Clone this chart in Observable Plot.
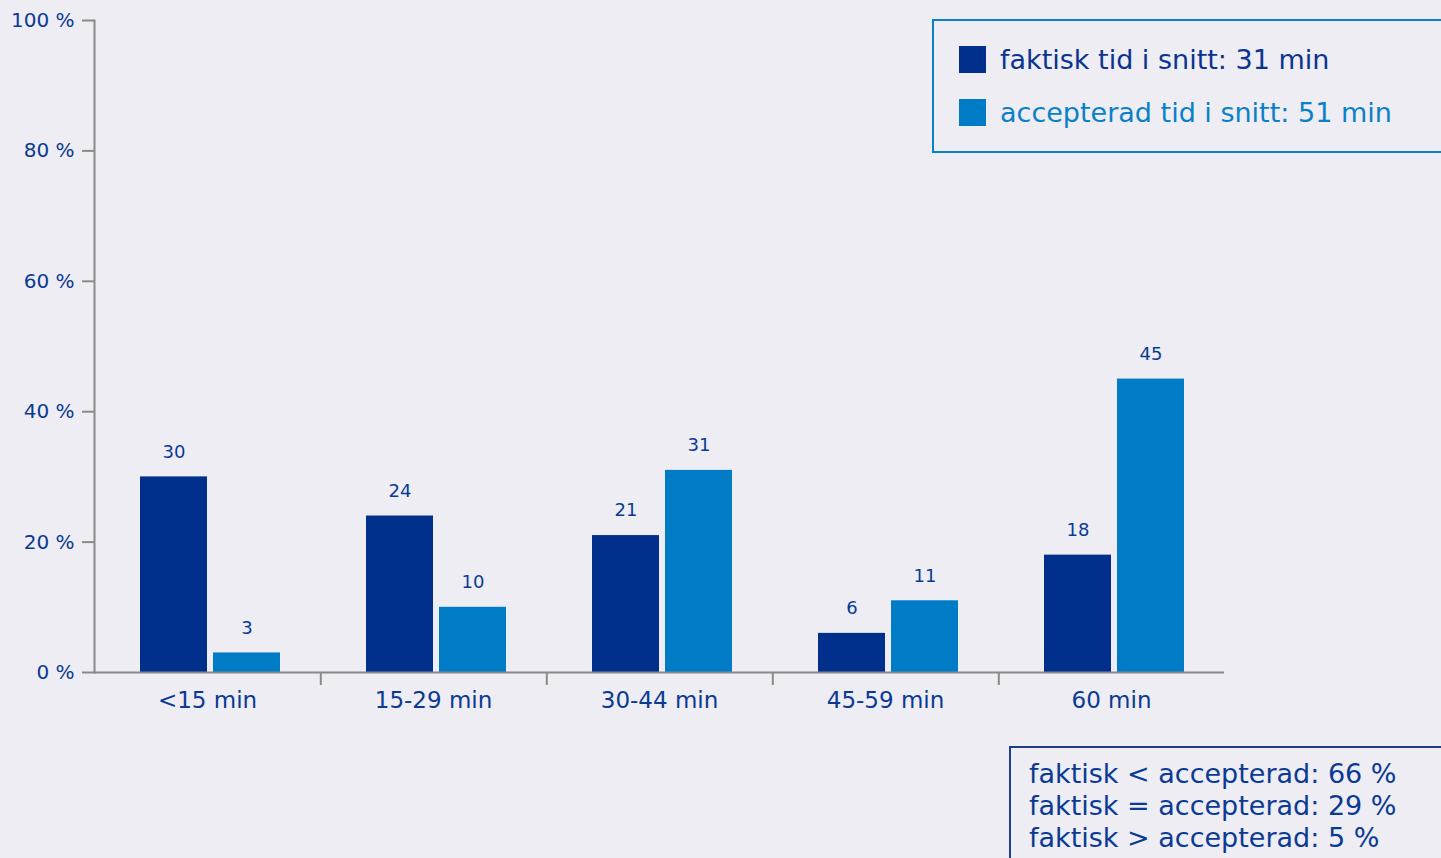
<!DOCTYPE html>
<html>
<head>
<meta charset="utf-8">
<script src="https://cdn.jsdelivr.net/npm/d3@7"></script>
<script src="https://cdn.jsdelivr.net/npm/@observablehq/plot@0.6"></script>
<style>
  html, body { margin: 0; padding: 0; background: #ededf3; }
  body { width: 1441px; height: 858px; overflow: hidden; position: relative; font-family: "DejaVu Sans", sans-serif; }
  #chart { position: absolute; left: 0; top: 0; }
  .box { position: absolute; box-sizing: border-box; }
  #legend { left: 932px; top: 19px; width: 540px; height: 134px; border: 2px solid #0a80c8; }
  .row { position: absolute; left: 25px; height: 27px; display: flex; align-items: center; font-size: 27px; white-space: nowrap; }
  .sw { width: 27px; height: 27px; margin-right: 14px; flex: none; }
  #summary { left: 1009px; top: 746px; width: 500px; height: 140px; border: 2px solid #1e3d8c; color: #0a3a94; font-size: 27px; line-height: 32px; padding: 10px 0 0 18px; white-space: nowrap; }
</style>
</head>
<body>
<div id="chart"></div>
<div id="legend" class="box"></div>
<div id="summary" class="box"></div>
<script>
const categories = ["<15 min", "15-29 min", "30-44 min", "45-59 min", "60 min"];
const seriesNames = ["faktisk", "accepterad"];
const faktisk = [30, 24, 21, 6, 18];
const accepterad = [3, 10, 31, 11, 45];
const yTicks = [0, 20, 40, 60, 80, 100];
const legendLabels = ["faktisk tid i snitt: 31 min", "accepterad tid i snitt: 51 min"];
const summaryLines = ["faktisk < accepterad: 66 %", "faktisk = accepterad: 29 %", "faktisk > accepterad: 5 %"];

const colors = ["#002f8c", "#007cc6"];
const textColor = "#0a3a94";
const axisColor = "#8a8a8a";

const table = [];
categories.forEach((c, i) => {
  table.push({cat: c, series: seriesNames[0], value: faktisk[i]});
  table.push({cat: c, series: seriesNames[1], value: accepterad[i]});
});

const chart = Plot.plot({
  width: 1441,
  height: 858,
  marginLeft: 92,
  marginRight: 216,
  marginTop: 20,
  marginBottom: 186,
  style: {fontFamily: "DejaVu Sans, sans-serif", background: "transparent", overflow: "visible"},
  fx: {domain: categories, padding: 0, label: null},
  x: {domain: seriesNames, paddingInner: 0.082, paddingOuter: 0.575, align: 0.53, axis: null},
  y: {domain: [0, 100], axis: null},
  color: {domain: seriesNames, range: colors},
  marks: [
    Plot.barY(table, {fx: "cat", x: "series", y: "value", fill: "series"}),
    Plot.text(table, {fx: "cat", x: "series", y: "value", text: d => String(d.value), dy: -25, fill: textColor, fontSize: 18}),
    Plot.ruleY([0], {stroke: axisColor, strokeWidth: 2}),
    Plot.frame({anchor: "left", facetAnchor: "left", stroke: axisColor, strokeWidth: 2}),
    Plot.axisY({ticks: yTicks, tickFormat: d => d + " %", tickSize: 12, tickPadding: 8, stroke: axisColor, strokeWidth: 2, fill: textColor, fontSize: 20, label: null}),
    Plot.axisFx({anchor: "bottom", tickSize: 0, tickPadding: 19, fill: textColor, fontSize: 23, label: null}),
    Plot.axisFx({anchor: "bottom", ticks: categories.slice(0, 4), tickSize: 13, tickFormat: () => "", dx: 113.3, stroke: axisColor, strokeWidth: 2, label: null})
  ]
});
document.getElementById("chart").appendChild(chart);

const legend = document.getElementById("legend");
legendLabels.forEach((t, i) => {
  const row = document.createElement("div");
  row.className = "row";
  row.style.top = (25 + i * 53) + "px";
  row.style.color = i === 0 ? "#0a3490" : "#0a80c8";
  const sw = document.createElement("div");
  sw.className = "sw";
  sw.style.background = colors[i];
  const span = document.createElement("span");
  span.textContent = t;
  row.appendChild(sw);
  row.appendChild(span);
  legend.appendChild(row);
});

const summary = document.getElementById("summary");
summaryLines.forEach(t => {
  const d = document.createElement("div");
  d.textContent = t;
  summary.appendChild(d);
});
</script>
</body>
</html>
